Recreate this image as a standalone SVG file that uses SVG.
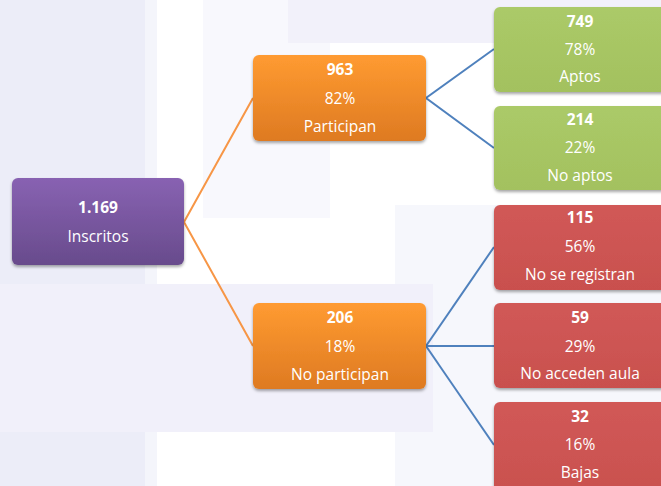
<svg xmlns="http://www.w3.org/2000/svg" width="661" height="486" viewBox="0 0 661 486">
<defs>
<linearGradient id="gPurple" x1="0" y1="0" x2="0" y2="1"><stop offset="0" stop-color="#8862B2"/><stop offset="1" stop-color="#684B8C"/></linearGradient>
<linearGradient id="gOrange" x1="0" y1="0" x2="0" y2="1"><stop offset="0" stop-color="#FF9B31"/><stop offset="1" stop-color="#DE7A22"/></linearGradient>
<linearGradient id="gGreen" x1="0" y1="0" x2="0" y2="1"><stop offset="0" stop-color="#ABCA68"/><stop offset="1" stop-color="#A3C15F"/></linearGradient>
<linearGradient id="gRed" x1="0" y1="0" x2="0" y2="1"><stop offset="0" stop-color="#D15957"/><stop offset="1" stop-color="#C9504E"/></linearGradient>
<filter id="sh" x="-10%" y="-10%" width="120%" height="130%"><feDropShadow dx="0" dy="2" stdDeviation="1.5" flood-color="#000" flood-opacity="0.35"/></filter>
</defs>
<style>
.t{font-family:"Open Sans","Noto Sans",sans-serif;font-size:15.5px;fill:#fff;text-anchor:middle}
.b{font-weight:bold}
.box{filter:url(#sh)}
.c1{fill:none;stroke:#F79646;stroke-width:2}
.c2{fill:none;stroke:#4F81BD;stroke-width:2}
</style>
<g id="background">
<rect x="0" y="0" width="661" height="486" fill="#FFFFFF"/>
<rect x="0" y="0" width="145" height="486" fill="#ECEDF8"/>
<rect x="145" y="0" width="12" height="486" fill="#F4F5FB"/>
<rect x="203" y="0" width="127" height="218" fill="#F8F8FD"/>
<rect x="288" y="0" width="373" height="43" fill="#F2F1FA"/>
<rect x="395" y="205" width="266" height="281" fill="#F6F7FC"/>
<rect x="0" y="284" width="433" height="148" fill="#F1F0FA"/>
</g>
<g id="connectors">
<polyline class="c1" points="253,98 184,222 253,346"/>
<polyline class="c2" points="494,49 426,98 494,148"/>
<line class="c2" x1="426" y1="346" x2="494" y2="247"/>
<line class="c2" x1="426" y1="346" x2="494" y2="346"/>
<line class="c2" x1="426" y1="346" x2="494" y2="445"/>
</g>
<g id="inscritos">
<rect class="box" x="12" y="178" width="172" height="87" rx="6" fill="url(#gPurple)"/>
<text class="t b" x="98" y="213">1.169</text>
<text class="t" x="98" y="242">Inscritos</text>
</g>
<g id="participan">
<rect class="box" x="253" y="55" width="173" height="86" rx="6" fill="url(#gOrange)"/>
<text class="t b" x="340" y="75">963</text>
<text class="t" x="340" y="104">82%</text>
<text class="t" x="340" y="132">Participan</text>
</g>
<g id="no-participan">
<rect class="box" x="253" y="303" width="173" height="86" rx="6" fill="url(#gOrange)"/>
<text class="t b" x="340" y="323">206</text>
<text class="t" x="340" y="352">18%</text>
<text class="t" x="340" y="380">No participan</text>
</g>
<g id="aptos">
<rect class="box" x="494" y="7" width="174" height="85" rx="6" fill="url(#gGreen)"/>
<text class="t b" x="580" y="27">749</text>
<text class="t" x="580" y="55">78%</text>
<text class="t" x="580" y="82">Aptos</text>
</g>
<g id="no-aptos">
<rect class="box" x="494" y="106" width="174" height="84" rx="6" fill="url(#gGreen)"/>
<text class="t b" x="580" y="125">214</text>
<text class="t" x="580" y="153">22%</text>
<text class="t" x="580" y="181">No aptos</text>
</g>
<g id="no-se-registran">
<rect class="box" x="494" y="205" width="174" height="85" rx="6" fill="url(#gRed)"/>
<text class="t b" x="580" y="223">115</text>
<text class="t" x="580" y="252">56%</text>
<text class="t" x="580" y="280">No se registran</text>
</g>
<g id="no-acceden-aula">
<rect class="box" x="494" y="303" width="174" height="85" rx="6" fill="url(#gRed)"/>
<text class="t b" x="580" y="323">59</text>
<text class="t" x="580" y="352">29%</text>
<text class="t" x="580" y="379">No acceden aula</text>
</g>
<g id="bajas">
<rect class="box" x="494" y="402" width="174" height="95" rx="6" fill="url(#gRed)"/>
<text class="t b" x="580" y="422">32</text>
<text class="t" x="580" y="450">16%</text>
<text class="t" x="580" y="478">Bajas</text>
</g>
</svg>
